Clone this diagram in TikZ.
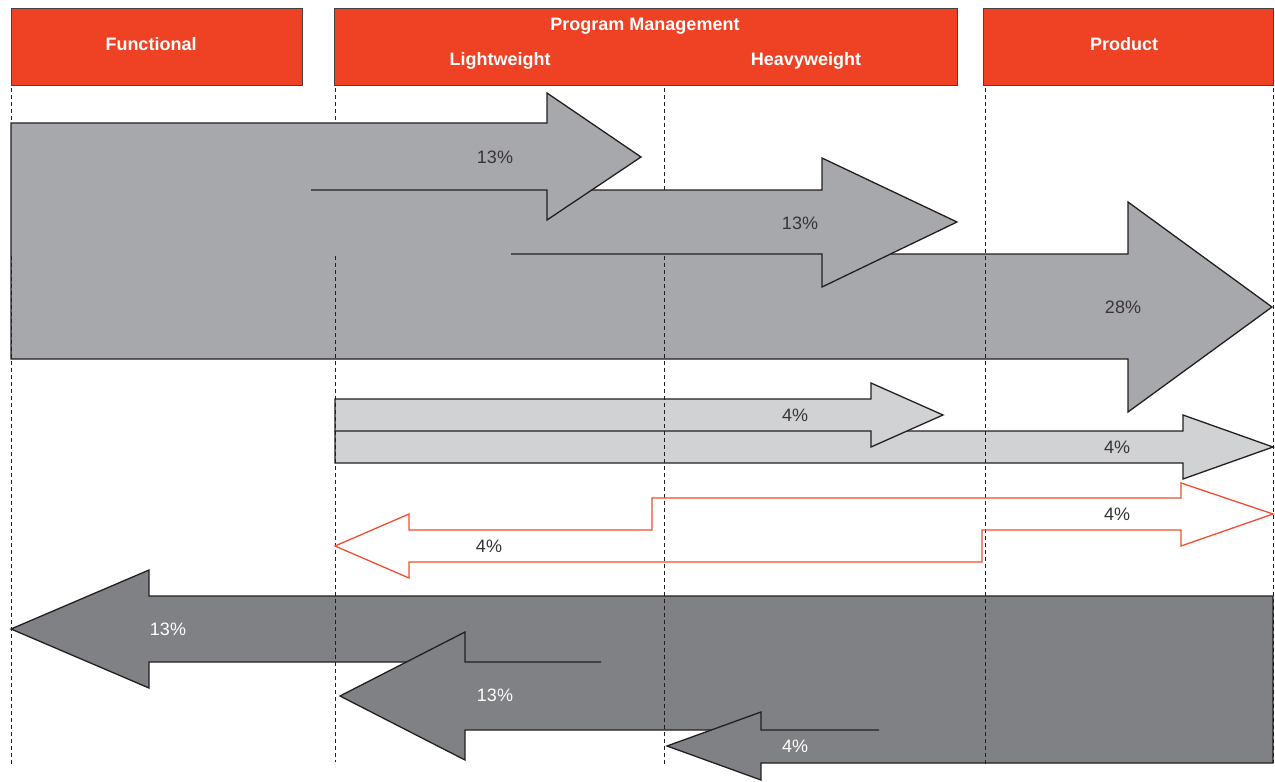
\documentclass[tikz,border=0pt]{standalone}
\usepackage{fontspec}
\setmainfont{Liberation Sans}
\begin{document}
\begin{tikzpicture}[x=1pt,y=-1pt,line join=miter]
\definecolor{hdrred}{HTML}{EF4123}
\definecolor{redline}{HTML}{F04E30}
\definecolor{gmid}{HTML}{A7A8AB}
\definecolor{glight}{HTML}{D1D2D4}
\definecolor{gdark}{HTML}{808185}
\definecolor{ink}{HTML}{231F20}
\tikzset{
  hdr/.style={fill=hdrred,draw=ink!85,line width=0.9pt},
  hdrtext/.style={text=white,font=\fontsize{18}{20}\selectfont\bfseries,inner sep=0pt},
  pct/.style={text=ink!90,font=\fontsize{18}{20}\selectfont,inner sep=0pt},
  pctw/.style={text=white,font=\fontsize{18}{20}\selectfont,inner sep=0pt},
  outl/.style={draw=ink,line width=1.3pt},
  guide/.style={draw=ink,line width=1pt,dash pattern=on 4pt off 3pt},
}
\useasboundingbox (0,0) rectangle (1275,782);
% header
\draw[hdr] (11,8) rectangle (302,85);
\draw[hdr] (334,8) rectangle (957,85);
\draw[hdr] (983,8) rectangle (1273,85);
\node[hdrtext] (hfun) at (151,44) {Functional};
\node[hdrtext] (hpm) at (645,26) {Program Management};
\node[hdrtext] (hlw) at (500,61) {Lightweight};
\node[hdrtext] (hhw) at (806,61) {Heavyweight};
\node[hdrtext] (hprod) at (1124,44) {Product};
% fills under guides
\fill[gmid] (11,254)--(1128,254)--(1128,202)--(1272,307)--(1128,412)--(1128,359)--(11,359)--cycle;
\fill[glight] (335,431)--(1183,431)--(1183,415)--(1273,447)--(1183,479)--(1183,463)--(335,463)--cycle;
\fill[glight] (335,399)--(871,399)--(871,383)--(943,415)--(871,447)--(871,431)--(335,431)--cycle;
\fill[white] (409,530)--(652,530)--(652,498)--(1181,498)--(1181,483)--(1273,514)--(1181,546)--(1181,530)--(982,530)--(982,562)--(409,562)--(409,578)--(335,546)--(409,514)--cycle;
\fill[gdark] (1273,596)--(149,596)--(149,570)--(11,629)--(149,688)--(149,662)--(1273,662)--cycle;
\fill[gdark] (1273,662)--(465,662)--(465,632)--(340,696)--(465,760)--(465,730)--(1273,730)--cycle;
\fill[gdark] (1273,730)--(761,730)--(761,712)--(667,746)--(761,780)--(761,763)--(1273,763)--cycle;
% guides
\draw[guide] (11,88)--(11,766);
\draw[guide] (335,88)--(335,762);
\draw[guide] (664,88)--(664,765);
\draw[guide] (985,88)--(985,765);
\draw[guide] (1273,88)--(1273,763);
% top arrows above guides
\fill[gmid] (11,190)--(822,190)--(822,158)--(957,222)--(822,287)--(822,254)--(11,254)--cycle;
\fill[gmid] (11,123)--(547,123)--(547,93)--(641,157)--(547,220)--(547,190)--(11,190)--cycle;
% outlines
\draw[outl] (311,190)--(547,190)--(547,220)--(641,157)--(547,93)--(547,123)--(11,123)--(11,359)--(1128,359)--(1128,412)--(1272,307)--(1128,202)--(1128,254)--(891,254);
\draw[outl] (511,254)--(822,254)--(822,287)--(957,222)--(822,158)--(822,190)--(592,190);
\draw[outl] (335,399)--(871,399)--(871,383)--(943,415)--(871,447)--(871,431)--(335,431)--cycle;
\draw[outl] (907,431)--(1183,431)--(1183,415)--(1273,447)--(1183,479)--(1183,463)--(335,463)--(335,431);
\draw[draw=redline,line width=1.3pt] (409,530)--(652,530)--(652,498)--(1181,498)--(1181,483)--(1273,514)--(1181,546)--(1181,530)--(982,530)--(982,562)--(409,562)--(409,578)--(335,546)--(409,514)--cycle;
\draw[outl] (406,662)--(149,662)--(149,688)--(11,629)--(149,570)--(149,596)--(1273,596)--(1273,763)--(761,763)--(761,780)--(667,746)--(761,712)--(761,730)--(879,730);
\draw[outl] (601,662)--(465,662)--(465,632)--(340,696)--(465,760)--(465,730)--(711,730);
% labels
\node[pct] (p1) at (495,157) {13\%};
\node[pct] (p2) at (800,223) {13\%};
\node[pct] (p3) at (1123,307) {28\%};
\node[pct] (p4) at (795,415) {4\%};
\node[pct] (p5) at (1117,447) {4\%};
\node[pct] (p6) at (1117,514) {4\%};
\node[pct] (p7) at (489,546) {4\%};
\node[pctw] (p8) at (168,629) {13\%};
\node[pctw] (p9) at (495,695) {13\%};
\node[pctw] (p10) at (795,746) {4\%};
\end{tikzpicture}
\end{document}
